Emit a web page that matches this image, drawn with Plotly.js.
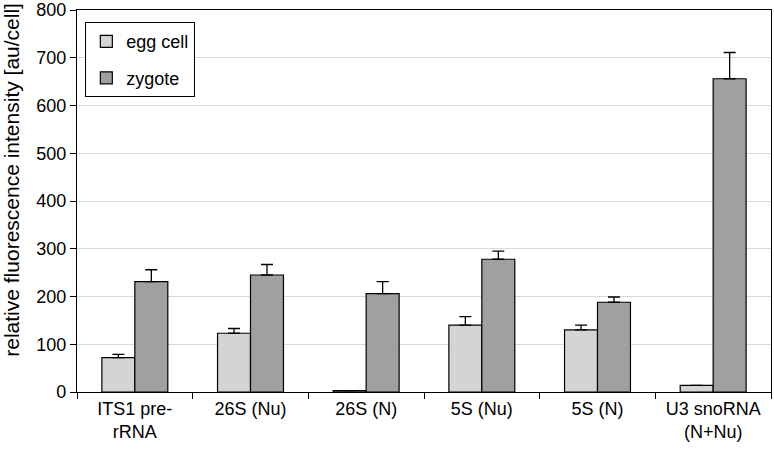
<!DOCTYPE html>
<html>
<head>
<meta charset="utf-8">
<script src="https://cdn.plot.ly/plotly-3.0.1.min.js"></script>
<style>
  html, body { margin: 0; padding: 0; background: #fff; }
  #chart { width: 774px; height: 454px; }
</style>
</head>
<body>
<div id="chart"></div>
<script>
// categories and values
const categories = ['ITS1 pre-<br>rRNA', '26S (Nu)', '26S (N)', '5S (Nu)', '5S (N)', 'U3 snoRNA<br>(N+Nu)'];
const eggCell = [72, 123, 3, 140, 130, 14];
const eggCellErr = [7, 10, 0, 18, 10, 0];
const zygote = [231, 245, 206, 278, 188, 656];
const zygoteErr = [25, 22, 25, 17, 11, 55];
const zeros = categories.map(() => 0);

const barLine = { color: '#000', width: 1.2 };

const traces = [
    {
        type: 'bar',
        name: 'egg cell',
        legendgroup: 'egg',
        x: categories,
        y: eggCell,
        marker: { color: '#d4d4d4', line: barLine },
        error_y: { type: 'data', symmetric: false, array: eggCellErr, arrayminus: zeros, color: '#000', thickness: 1.3, width: 6 }
    },
    {
        type: 'bar',
        name: 'zygote',
        legendgroup: 'zyg',
        x: categories,
        y: zygote,
        marker: { color: '#a0a0a0', line: barLine },
        error_y: { type: 'data', symmetric: false, array: zygoteErr, arrayminus: zeros, color: '#000', thickness: 1.3, width: 6 }
    }
];

const layout = {
    width: 774,
    height: 454,
    margin: { t: 10, r: 3, b: 62, l: 77 },
    paper_bgcolor: '#fff',
    plot_bgcolor: '#fff',
    font: { family: 'Liberation Sans, Arial, sans-serif', color: '#000', size: 18 },
    barmode: 'group',
    bargap: 0.43,
    bargroupgap: 0,
    showlegend: true,
    legend: {
        x: 0.012, y: 0.968, xanchor: 'left', yanchor: 'top',
        bordercolor: '#000', borderwidth: 1, bgcolor: '#fff',
        font: { size: 18 },
        traceorder: 'grouped',
        tracegroupgap: 10,
        itemwidth: 30
    },
    xaxis: {
        type: 'category',
        tickson: 'boundaries',
        ticks: 'outside',
        ticklen: 6,
        tickcolor: '#000',
        showline: true,
        linecolor: '#000',
        linewidth: 1.2,
        mirror: true,
        showgrid: false,
        tickfont: { size: 18 }
    },
    yaxis: {
        range: [0, 800],
        dtick: 100,
        ticks: 'outside',
        ticklen: 6,
        tickcolor: '#000',
        showline: true,
        linecolor: '#000',
        linewidth: 1.2,
        mirror: true,
        showgrid: true,
        gridcolor: '#d9d9d9',
        zeroline: false,
        tickfont: { size: 18 }
    },
    // y title as an annotation: in the original it sits above the axis centre
    annotations: [{
        text: 'relative fluorescence intensity [au/cell]',
        textangle: -90,
        xref: 'paper', yref: 'paper',
        x: -0.094, y: 0.555,
        xanchor: 'center', yanchor: 'middle',
        showarrow: false,
        font: { size: 21 }
    }]
};

Plotly.newPlot('chart', traces, layout, { displayModeBar: false, staticPlot: true });
</script>
</body>
</html>
